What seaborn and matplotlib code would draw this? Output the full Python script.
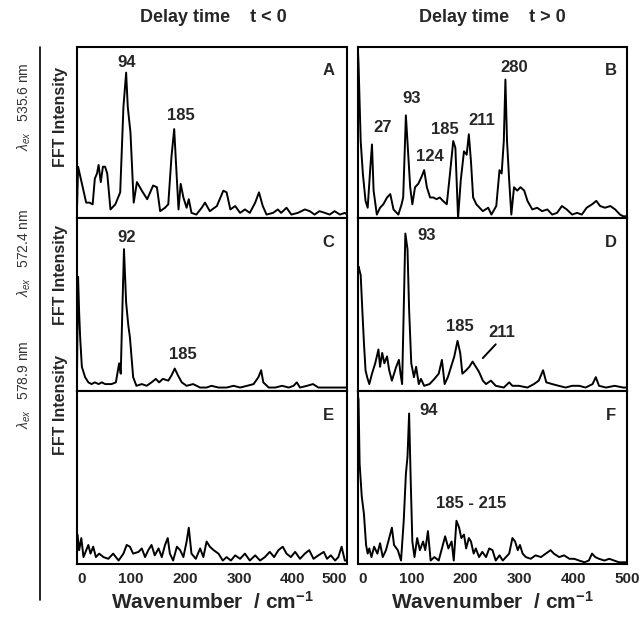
import matplotlib
matplotlib.use("Agg")
import matplotlib.pyplot as plt
import seaborn as sns
import pandas as pd

# ---------------- data (wavenumber / cm-1, relative FFT intensity) ----------------
A_wn = [0, 2, 17, 23, 29, 33, 37, 40, 44, 48, 52, 56, 62, 71, 80, 86, 91, 94, 99, 105, 111, 120,
        130, 141, 148, 154, 163, 169, 175, 180, 183, 188, 192, 197, 203, 207, 212, 221, 231, 237,
        246, 259, 271, 277, 284, 293, 302, 311, 320, 330, 337, 344, 351, 363, 372, 378, 388, 397,
        409, 422, 431, 440, 449, 459, 468, 477, 487, 496, 500]
A_int = [0.05, 0.30, 0.09, 0.09, 0.08, 0.23, 0.26, 0.31, 0.21, 0.30, 0.30, 0.26, 0.05, 0.08, 0.15,
         0.65, 0.85, 0.65, 0.50, 0.09, 0.21, 0.16, 0.11, 0.19, 0.18, 0.04, 0.06, 0.08, 0.36, 0.52,
         0.34, 0.05, 0.20, 0.12, 0.06, 0.11, 0.03, 0.02, 0.06, 0.09, 0.04, 0.07, 0.16, 0.15, 0.05,
         0.07, 0.03, 0.05, 0.03, 0.09, 0.15, 0.07, 0.02, 0.03, 0.05, 0.03, 0.06, 0.02, 0.03, 0.05,
         0.04, 0.02, 0.04, 0.03, 0.02, 0.04, 0.02, 0.03, 0.02]

B_wn = [0, 1, 5, 9, 14, 18, 23, 26, 29, 35, 41, 47, 54, 60, 66, 75, 81, 84, 89, 93, 97, 101, 106,
        112, 118, 123, 128, 134, 140, 146, 152, 158, 165, 171, 177, 181, 186, 191, 197, 202, 206,
        210, 214, 220, 226, 232, 242, 248, 257, 263, 267, 271, 274, 277, 281, 285, 290, 296, 302,
        309, 315, 324, 333, 342, 352, 361, 370, 379, 388, 398, 407, 416, 425, 435, 443, 450, 459,
        469, 478, 487, 493, 500]
B_int = [0.97, 0.90, 0.45, 0.26, 0.10, 0.06, 0.30, 0.43, 0.16, 0.02, 0.06, 0.08, 0.12, 0.14, 0.05,
         0.02, 0.08, 0.12, 0.60, 0.39, 0.18, 0.08, 0.18, 0.20, 0.24, 0.28, 0.18, 0.12, 0.12, 0.11,
         0.12, 0.10, 0.08, 0.26, 0.45, 0.41, 0.00, 0.22, 0.39, 0.37, 0.49, 0.33, 0.12, 0.08, 0.06,
         0.04, 0.06, 0.02, 0.07, 0.28, 0.26, 0.45, 0.81, 0.45, 0.22, 0.02, 0.18, 0.16, 0.18, 0.16,
         0.10, 0.05, 0.06, 0.04, 0.05, 0.02, 0.03, 0.07, 0.05, 0.02, 0.03, 0.02, 0.06, 0.08, 0.10,
         0.07, 0.06, 0.07, 0.05, 0.02, 0.01, 0.01]

C_wn = [0, 2, 4, 6, 9, 15, 21, 27, 33, 40, 46, 52, 58, 64, 72, 78, 81, 84, 87, 91, 95, 98, 104,
        110, 120, 129, 138, 146, 152, 159, 169, 175, 181, 187, 194, 203, 215, 228, 240, 249, 262,
        277, 290, 302, 315, 327, 336, 341, 345, 355, 367, 380, 392, 401, 407, 413, 426, 437, 447,
        463, 481, 496, 500]
C_int = [0.10, 0.66, 0.45, 0.30, 0.14, 0.08, 0.05, 0.04, 0.05, 0.04, 0.05, 0.04, 0.04, 0.04, 0.05,
         0.16, 0.10, 0.47, 0.82, 0.51, 0.38, 0.31, 0.08, 0.03, 0.04, 0.03, 0.05, 0.07, 0.05, 0.07,
         0.06, 0.09, 0.13, 0.09, 0.05, 0.03, 0.04, 0.02, 0.02, 0.03, 0.02, 0.02, 0.03, 0.02, 0.03,
         0.04, 0.08, 0.12, 0.05, 0.02, 0.02, 0.03, 0.02, 0.03, 0.05, 0.02, 0.03, 0.04, 0.02, 0.02,
         0.02, 0.02, 0.02]

D_wn = [0, 1, 5, 8, 11, 14, 17, 21, 26, 32, 38, 41, 45, 49, 54, 58, 63, 67, 71, 76, 79, 82, 85,
        88, 92, 95, 99, 104, 108, 113, 117, 123, 133, 142, 150, 156, 161, 167, 173, 179, 185, 190,
        194, 201, 207, 213, 219, 225, 232, 238, 247, 256, 271, 281, 287, 299, 315, 327, 336, 344,
        350, 361, 373, 386, 398, 411, 423, 436, 442, 448, 461, 477, 493, 500]
D_int = [0.70, 0.72, 0.67, 0.47, 0.28, 0.12, 0.08, 0.04, 0.10, 0.16, 0.24, 0.14, 0.22, 0.16, 0.20,
         0.12, 0.06, 0.10, 0.14, 0.18, 0.10, 0.04, 0.47, 0.91, 0.82, 0.47, 0.16, 0.08, 0.14, 0.04,
         0.07, 0.03, 0.04, 0.07, 0.10, 0.18, 0.04, 0.08, 0.14, 0.20, 0.29, 0.22, 0.10, 0.12, 0.14,
         0.17, 0.14, 0.11, 0.06, 0.04, 0.06, 0.03, 0.02, 0.05, 0.03, 0.03, 0.02, 0.04, 0.06, 0.12,
         0.05, 0.04, 0.03, 0.02, 0.03, 0.03, 0.02, 0.04, 0.08, 0.03, 0.02, 0.03, 0.02, 0.02]

E_wn = [0, 1, 4, 8, 12, 21, 25, 30, 35, 41, 49, 58, 67, 77, 86, 92, 98, 104, 114, 120, 126, 132,
        138, 144, 151, 157, 163, 168, 172, 178, 185, 191, 197, 203, 207, 212, 220, 228, 234, 240,
        246, 253, 262, 270, 277, 285, 293, 302, 311, 320, 330, 339, 348, 357, 365, 373, 381, 388,
        396, 404, 413, 422, 430, 438, 447, 457, 463, 470, 478, 484, 490, 496, 500]
E_int = [0.05, 0.17, 0.08, 0.15, 0.04, 0.11, 0.06, 0.10, 0.04, 0.06, 0.04, 0.03, 0.06, 0.02, 0.06,
         0.11, 0.10, 0.06, 0.07, 0.09, 0.04, 0.08, 0.11, 0.05, 0.09, 0.04, 0.11, 0.15, 0.06, 0.02,
         0.10, 0.08, 0.04, 0.13, 0.21, 0.06, 0.03, 0.09, 0.04, 0.13, 0.10, 0.08, 0.06, 0.02, 0.04,
         0.02, 0.05, 0.03, 0.06, 0.02, 0.05, 0.02, 0.04, 0.07, 0.04, 0.08, 0.10, 0.06, 0.04, 0.07,
         0.03, 0.06, 0.08, 0.03, 0.05, 0.07, 0.03, 0.05, 0.02, 0.04, 0.10, 0.02, 0.02]

F_wn = [0, 1, 3, 7, 11, 15, 18, 21, 25, 30, 36, 41, 46, 52, 58, 63, 67, 74, 80, 85, 89, 92, 95, 98,
        101, 105, 110, 115, 121, 125, 130, 135, 142, 150, 156, 162, 168, 174, 178, 183, 188, 192,
        197, 201, 206, 210, 215, 219, 225, 231, 238, 244, 250, 256, 263, 269, 275, 281, 287, 292,
        297, 301, 306, 312, 321, 330, 340, 349, 358, 364, 374, 383, 393, 402, 411, 421, 429, 435,
        441, 448, 458, 467, 476, 485, 492, 500]
F_int = [0.97, 0.95, 0.58, 0.39, 0.29, 0.11, 0.06, 0.09, 0.04, 0.10, 0.06, 0.12, 0.04, 0.08, 0.15,
         0.21, 0.11, 0.08, 0.02, 0.25, 0.52, 0.62, 0.87, 0.48, 0.13, 0.04, 0.15, 0.08, 0.13, 0.08,
         0.19, 0.02, 0.04, 0.02, 0.09, 0.16, 0.09, 0.13, 0.02, 0.25, 0.21, 0.15, 0.17, 0.09, 0.15,
         0.13, 0.06, 0.09, 0.04, 0.07, 0.04, 0.09, 0.08, 0.02, 0.05, 0.02, 0.04, 0.06, 0.15, 0.13,
         0.08, 0.11, 0.06, 0.04, 0.03, 0.05, 0.04, 0.06, 0.08, 0.06, 0.04, 0.05, 0.03, 0.03, 0.02,
         0.01, 0.02, 0.06, 0.04, 0.03, 0.02, 0.03, 0.02, 0.01, 0.01, 0.01]

panel_letters = ["A", "B", "C", "D", "E", "F"]
column_titles = ["Delay time    t < 0", "Delay time    t > 0"]
row_wavelengths = ["535.6 nm", "572.4 nm", "578.9 nm"]
x_ticks = [0, 100, 200, 300, 400, 500]

# peak labels: (panel, text, x, y)
peak_labels = [
    ("A", "94", 92, 0.91), ("A", "185", 193, 0.60),
    ("B", "27", 45, 0.53), ("B", "93", 100, 0.70), ("B", "124", 134, 0.36),
    ("B", "185", 162, 0.52), ("B", "211", 231, 0.57), ("B", "280", 290, 0.88),
    ("C", "92", 92, 0.89), ("C", "185", 196, 0.21),
    ("D", "93", 128, 0.90), ("D", "185", 190, 0.37), ("D", "211", 268, 0.34),
    ("F", "94", 132, 0.89), ("F", "185 - 215", 210, 0.35),
]

spectra = {
    "A": (A_wn, A_int), "B": (B_wn, B_int), "C": (C_wn, C_int),
    "D": (D_wn, D_int), "E": (E_wn, E_int), "F": (F_wn, F_int),
}

# ---------------- figure ----------------
sns.set_theme(style="white")
plt.rcParams["font.family"] = ["Liberation Sans", "DejaVu Sans"]
plt.rcParams["mathtext.fontset"] = "custom"
plt.rcParams["mathtext.rm"] = "Liberation Sans"
plt.rcParams["mathtext.it"] = "Liberation Sans:italic"
plt.rcParams["mathtext.bf"] = "Liberation Sans:bold"

fig = plt.figure(figsize=(6.39, 6.19), dpi=100)
W, H = 639, 619
col_x = [(77, 270), (358, 269)]
row_y = [(47, 218), (218, 391), (391, 564)]

axes = {}
for i, letter in enumerate(panel_letters):
    r, c = divmod(i, 2)
    x0, w = col_x[c]
    top, bot = row_y[r]
    ax = fig.add_axes([x0 / W, 1 - bot / H, w / W, (bot - top) / H])
    axes[letter] = ax
    wn, inten = spectra[letter]
    df = pd.DataFrame({"wn": wn, "I": inten})
    sns.lineplot(data=df, x="wn", y="I", ax=ax, color="black", lw=1.4,
                 estimator=None, sort=False)
    ax.set_xlim(0, 500)
    ax.set_ylim(0, 1)
    ax.set_yticks([])
    ax.set_xticks(x_ticks)
    ax.set_xlabel("")
    ax.set_ylabel("")
    ax.tick_params(axis="x", length=0, pad=6)
    for s in ax.spines.values():
        s.set_color("black")
        s.set_linewidth(1.5)
    if r < 2:
        ax.set_xticklabels([])
    else:
        labels = ax.set_xticklabels([str(t) for t in x_ticks], fontsize=11, fontweight="bold")
        if c == 0:
            labels[0].set_horizontalalignment("left")
            labels[-1].set_horizontalalignment("right")
        else:
            labels[0].set_horizontalalignment("left")
        ax.set_xlabel("Wavenumber  / cm$^{\\mathbf{-1}}$", fontsize=15, fontweight="bold",
                      labelpad=3)
    ax.text(0.93 if c == 0 else 0.94, 0.86, letter, transform=ax.transAxes,
            fontsize=12, fontweight="bold", ha="center", va="center")

for panel, txt, x, y in peak_labels:
    axes[panel].text(x, y, txt, fontsize=12, fontweight="bold", ha="center", va="center")

# pointer line for 211 in D
axes["D"].plot([232, 256], [0.19, 0.27], color="black", lw=1.4)

# column titles
fig.text(213 / W, 1 - 18 / H, column_titles[0], fontsize=13, fontweight="bold",
         ha="center", va="center")
fig.text(492 / W, 1 - 18 / H, column_titles[1], fontsize=13, fontweight="bold",
         ha="center", va="center")

# left row labels
row_centers = [117, 275, 405]
lam_centers = [107, 253, 385]
for i in range(3):
    fig.text(60 / W, 1 - row_centers[i] / H, "FFT Intensity", fontsize=11.5, fontweight="bold",
             rotation=90, ha="center", va="center")
    fig.text(24 / W, 1 - lam_centers[i] / H,
             "$\\lambda_{ex}$   " + row_wavelengths[i], fontsize=10,
             rotation=90, ha="center", va="center", color="#333333")

# separator line at left
fig.add_artist(plt.Line2D([40 / W, 40 / W], [1 - 47 / H, 1 - 600 / H],
                          color="black", lw=1.2, transform=fig.transFigure))

fig.savefig("out.png", dpi=100)
